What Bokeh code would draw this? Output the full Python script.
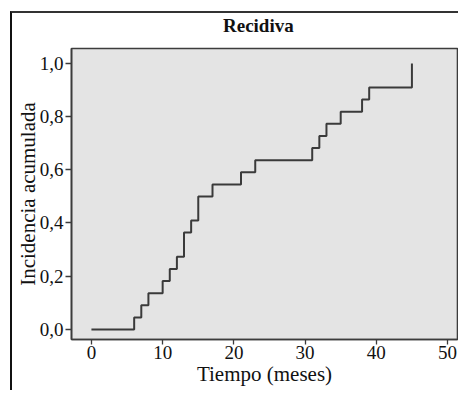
from bokeh.plotting import figure
from bokeh.models import FixedTicker, CustomJSTickFormatter, Range1d, Div
from bokeh.layouts import column
from bokeh.embed import file_html
from bokeh.resources import INLINE

# Data
tiempo = [0, 6, 7, 8, 10, 11, 12, 13, 14, 15, 17, 21, 23, 31, 32, 33, 35, 38, 39, 45]
incidencia = [0.0, 0.045, 0.091, 0.136, 0.182, 0.227, 0.273, 0.364, 0.409, 0.5,
              0.545, 0.591, 0.636, 0.682, 0.727, 0.773, 0.818, 0.864, 0.909, 1.0]
x_ticks = [0, 10, 20, 30, 40, 50]
y_ticks = [0.0, 0.2, 0.4, 0.6, 0.8, 1.0]
titulo = "Recidiva"

SERIF = "Liberation Serif"
DARK = "#3c3c3c"

title_div = Div(
    text=('<div style="padding-left:211px;padding-top:3px;white-space:nowrap;'
          'font-family:\'Liberation Serif\';font-weight:bold;font-size:19px;'
          'line-height:19px;color:#111111;">' + titulo + '</div>'),
    width=446, height=34, margin=0)

p = figure(width=446, height=343, output_backend="svg", toolbar_location=None,
           x_range=Range1d(-2.8, 51.4), y_range=Range1d(-0.038, 1.056),
           min_border_left=58, min_border_right=1, min_border_top=1, min_border_bottom=51)
p.margin = 0

p.background_fill_color = "#e4e4e4"
p.border_fill_color = "white"
p.outline_line_color = DARK
p.outline_line_width = 1.6
p.grid.visible = False

p.step(tiempo, incidencia, mode="after", line_color="#3a3a3a", line_width=2)

for ax in (p.xaxis[0], p.yaxis[0]):
    ax.axis_line_color = DARK
    ax.axis_line_width = 1.6
    ax.major_tick_line_color = DARK
    ax.major_tick_line_width = 1.3
    ax.major_tick_in = 0
    ax.major_tick_out = 6
    ax.minor_tick_line_color = None
    ax.major_label_text_font = SERIF
    ax.major_label_text_font_size = "19px"
    ax.major_label_text_color = "#111111"
    ax.axis_label_text_font = SERIF
    ax.axis_label_text_font_size = "21px"
    ax.axis_label_text_font_style = "normal"
    ax.axis_label_text_color = "#111111"
    ax.major_label_standoff = 2

p.xaxis[0].major_tick_out = 5
p.xaxis[0].major_label_standoff = 1
p.xaxis.ticker = FixedTicker(ticks=x_ticks)
p.yaxis.ticker = FixedTicker(ticks=y_ticks)
p.yaxis.formatter = CustomJSTickFormatter(code="return tick.toFixed(1).replace('.', ',');")
p.xaxis.axis_label = "Tiempo (meses)"
p.yaxis.axis_label = "Incidencia acumulada"
p.xaxis.axis_label_standoff = 0
p.yaxis.axis_label_standoff = -3

layout = column(title_div, p, spacing=0)
layout.margin = (11, 0, 0, 10)
layout.styles = {"border-left": "2px solid #111111", "border-top": "2px solid #333333"}

open("out.html", "w").write(file_html(layout, INLINE))
